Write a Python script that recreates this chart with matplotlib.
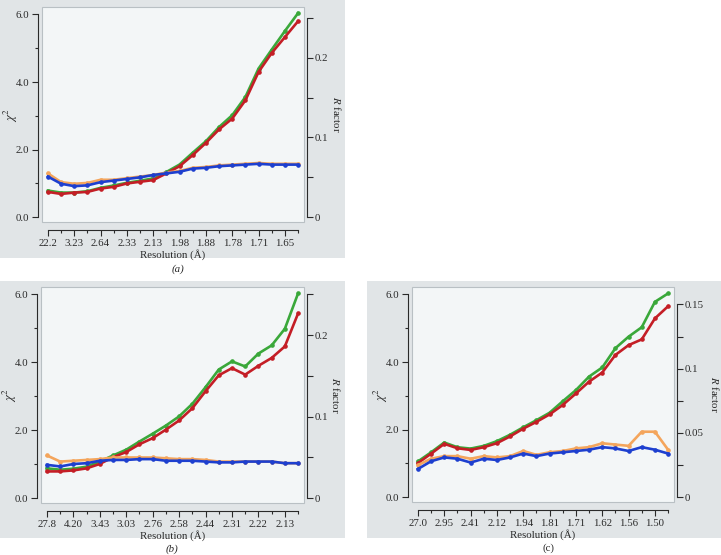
import matplotlib
matplotlib.use("Agg")
import matplotlib.pyplot as plt
from matplotlib.patches import Rectangle
from matplotlib.ticker import FixedLocator

plt.rcParams['font.family'] = ['Liberation Serif', 'DejaVu Serif']
plt.rcParams['mathtext.fontset'] = 'stix'

# colours
GREEN = '#3aa83a'
RED = '#c41e26'
BLUE = '#1d3fcf'
ORANGE = '#f4a55c'
BOX = '#e1e5e7'
FACE = '#f3f6f7'
INK = '#2a2a2a'

# panel (a)
a_ticklabels = ['22.2', '3.23', '2.64', '2.33', '2.13', '1.98', '1.88', '1.78', '1.71', '1.65']
a_green = [0.79, 0.73, 0.73, 0.77, 0.87, 0.94, 1.02, 1.08, 1.15, 1.34,
           1.56, 1.91, 2.25, 2.67, 3.02, 3.56, 4.40, 4.96, 5.51, 6.04]
a_red = [0.75, 0.69, 0.73, 0.75, 0.85, 0.90, 1.00, 1.05, 1.10, 1.30,
         1.51, 1.84, 2.20, 2.60, 2.92, 3.46, 4.30, 4.86, 5.33, 5.80]
a_orange = [0.055, 0.044, 0.042, 0.043, 0.047, 0.047, 0.049, 0.051, 0.053, 0.056,
            0.058, 0.062, 0.063, 0.065, 0.066, 0.067, 0.068, 0.067, 0.067, 0.067]
a_blue = [0.051, 0.042, 0.039, 0.040, 0.044, 0.046, 0.048, 0.050, 0.053, 0.055,
          0.057, 0.061, 0.062, 0.064, 0.065, 0.066, 0.067, 0.066, 0.066, 0.066]

# panel (b)
b_ticklabels = ['27.8', '4.20', '3.43', '3.03', '2.76', '2.58', '2.44', '2.31', '2.22', '2.13']
b_green = [0.88, 0.84, 0.87, 0.93, 1.08, 1.26, 1.43, 1.67, 1.90, 2.14,
           2.41, 2.78, 3.27, 3.79, 4.03, 3.88, 4.26, 4.50, 4.99, 6.03]
b_red = [0.79, 0.79, 0.82, 0.88, 1.01, 1.21, 1.36, 1.59, 1.77, 2.02,
         2.29, 2.65, 3.15, 3.62, 3.83, 3.64, 3.90, 4.13, 4.47, 5.44]
b_orange = [0.0525, 0.045, 0.046, 0.047, 0.048, 0.050, 0.050, 0.050, 0.050, 0.049,
            0.048, 0.048, 0.047, 0.045, 0.045, 0.045, 0.045, 0.045, 0.043, 0.043]
b_blue = [0.041, 0.039, 0.042, 0.043, 0.046, 0.047, 0.047, 0.048, 0.048, 0.046,
          0.046, 0.046, 0.045, 0.044, 0.044, 0.045, 0.045, 0.045, 0.043, 0.043]

# panel (c)
c_ticklabels = ['27.0', '2.95', '2.41', '2.12', '1.94', '1.81', '1.71', '1.62', '1.56', '1.50']
c_green = [1.06, 1.33, 1.62, 1.48, 1.44, 1.52, 1.66, 1.85, 2.07, 2.28,
           2.50, 2.84, 3.17, 3.57, 3.84, 4.41, 4.75, 5.03, 5.78, 6.03]
c_red = [1.01, 1.29, 1.58, 1.45, 1.40, 1.48, 1.60, 1.80, 2.03, 2.23,
         2.45, 2.73, 3.07, 3.42, 3.69, 4.21, 4.50, 4.67, 5.29, 5.65]
c_orange = [0.025, 0.030, 0.032, 0.032, 0.030, 0.032, 0.031, 0.032, 0.036, 0.033,
            0.035, 0.036, 0.038, 0.039, 0.042, 0.041, 0.040, 0.051, 0.051, 0.037]
c_blue = [0.022, 0.028, 0.031, 0.030, 0.027, 0.030, 0.029, 0.031, 0.034, 0.032,
          0.034, 0.035, 0.036, 0.037, 0.039, 0.038, 0.036, 0.039, 0.037, 0.034]

W, H = 721, 555
fig = plt.figure(figsize=(W / 100, H / 100), dpi=100)


def px_rect(x0, y0, x1, y1):
    # pixel box (top-left origin) -> figure fraction rect
    return [x0 / W, 1 - y1 / H, (x1 - x0) / W, (y1 - y0) / H]


def panel(box, area, ticklabels, green, red, orange, blue, r_ratio, r_max, r_major, r_minor,
          r_fmt, caption, cap_xy, cap_style, chi_x, r_label_x):
    bx = px_rect(*box)
    fig.patches.append(Rectangle((bx[0], bx[1]), bx[2], bx[3], transform=fig.transFigure,
                                 facecolor=BOX, edgecolor='none', zorder=-10))
    ax = fig.add_axes(px_rect(*area))
    ax.set_facecolor(FACE)
    ax.add_patch(Rectangle((0, 0), 1, 1, transform=ax.transAxes, fill=False,
                           edgecolor='#b9c0c4', lw=0.8, clip_on=False, zorder=0))
    n = len(green)
    x = list(range(n))
    ylo, yhi = -0.14, 6.22
    ax.set_xlim(-0.45, n - 0.55)
    ax.set_ylim(ylo, yhi)

    ax.plot(x, green, color=GREEN, lw=1.9, marker='o', ms=2.3, zorder=3)
    ax.plot(x, red, color=RED, lw=1.9, marker='o', ms=2.3, zorder=4)

    for s in ['top', 'right']:
        ax.spines[s].set_visible(False)
    ax.spines['left'].set_position(('outward', 3))
    ax.spines['left'].set_bounds(0, 6)
    ax.spines['bottom'].set_position(('outward', 6))
    ax.spines['bottom'].set_bounds(0, n - 1)
    for s in ['left', 'bottom']:
        ax.spines[s].set_color(INK)
        ax.spines[s].set_linewidth(0.8)

    ax.xaxis.set_major_locator(FixedLocator(list(range(0, n, 2))))
    ax.xaxis.set_minor_locator(FixedLocator(list(range(1, n, 2))))
    ax.set_xticklabels(ticklabels)
    ax.yaxis.set_major_locator(FixedLocator([0, 2, 4, 6]))
    ax.yaxis.set_minor_locator(FixedLocator([1, 3, 5]))
    ax.set_yticklabels(['0.0', '2.0', '4.0', '6.0'])
    ax.tick_params(which='major', length=4, width=0.8, color=INK, labelsize=7.8,
                   labelcolor=INK, pad=2)
    ax.tick_params(which='minor', length=2.5, width=0.8, color=INK)

    ax.set_xlabel('Resolution (Å)', fontsize=7.8, color=INK)
    ax.xaxis.set_label_coords(0.5, -0.125)
    ax.set_ylabel(r'$\chi^2$', fontsize=9, color=INK)
    ax.yaxis.set_label_coords(chi_x, 0.5)

    ar = ax.twinx()
    ar.set_ylim(ylo * r_ratio, yhi * r_ratio)
    ar.plot(x, orange, color=ORANGE, lw=1.9, marker='o', ms=2.3, zorder=3)
    ar.plot(x, blue, color=BLUE, lw=1.9, marker='o', ms=2.3, zorder=4)
    for s in ['top', 'left', 'bottom']:
        ar.spines[s].set_visible(False)
    ar.spines['right'].set_position(('outward', 2))
    ar.spines['right'].set_bounds(0, r_max)
    ar.spines['right'].set_color(INK)
    ar.spines['right'].set_linewidth(0.8)
    ar.yaxis.set_major_locator(FixedLocator(r_major))
    ar.yaxis.set_minor_locator(FixedLocator(r_minor))
    ar.set_yticklabels(r_fmt)
    ar.tick_params(which='major', length=4, width=0.8, color=INK, labelsize=7.8,
                   labelcolor=INK, pad=2)
    ar.tick_params(which='minor', length=4, width=0.8, color=INK)
    ar.set_ylabel(r'$R$ factor', fontsize=7.8, color=INK, rotation=-90)
    ar.yaxis.set_label_coords(r_label_x, 0.5)

    fig.text(cap_xy[0] / W, 1 - cap_xy[1] / H, caption, ha='center', va='center',
             fontsize=7.8, color=INK, style=cap_style)
    return ax


panel((0, 0, 345, 258), (42, 7, 304, 222), a_ticklabels, a_green, a_red, a_orange, a_blue,
      0.04237, 0.25, [0, 0.1, 0.2], [0.05, 0.15, 0.25], ['0', '0.1', '0.2'],
      '(a)', (178, 269), 'italic', -0.085, 1.15)
panel((0, 281, 345, 538), (41, 287, 304, 503), b_ticklabels, b_green, b_red, b_orange, b_blue,
      0.04167, 0.25, [0, 0.1, 0.2], [0.05, 0.15, 0.25], ['0', '0.1', '0.2'],
      '(b)', (172, 549), 'italic', -0.085, 1.145)
panel((367, 281, 721, 538), (412, 287, 674, 502), c_ticklabels, c_green, c_red, c_orange, c_blue,
      0.0263, 0.15, [0, 0.05, 0.1, 0.15], [0.025, 0.075, 0.125], ['0', '0.05', '0.1', '0.15'],
      '(c)', (548, 548), 'normal', -0.085, 1.18)

fig.savefig('out.png', dpi=100)
